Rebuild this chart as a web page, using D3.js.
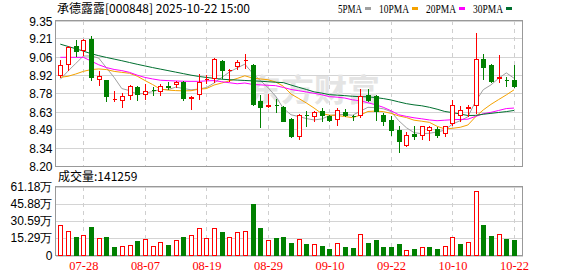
<!DOCTYPE html>
<html lang="zh">
<head>
<meta charset="UTF-8">
<title>承德露露 日K</title>
<script src="https://d3js.org/d3.v7.min.js"></script>
<style>
  body { margin: 0; background: #fff; }
  svg { display: block; font-family: "Liberation Sans", Arial, "Noto Sans CJK SC", sans-serif; }
  .hgrid { stroke: #d4d4d4; shape-rendering: crispEdges; }
  .vgrid { stroke: #cfcfcf; stroke-dasharray: 4,4; shape-rendering: crispEdges; }
  .frame { fill: none; stroke: #999; shape-rendering: crispEdges; }
  .ma { fill: none; stroke-width: 1px; }
</style>
</head>
<body>
<svg id="chart" width="578" height="276"></svg>
<script>
// trading days shown (2025)
const dates = ["07-23","07-24","07-25","07-28","07-29","07-30","07-31","08-01","08-04","08-05",
  "08-06","08-07","08-08","08-11","08-12","08-13","08-14","08-15","08-18","08-19",
  "08-20","08-21","08-22","08-25","08-26","08-27","08-28","08-29","09-01","09-02",
  "09-03","09-04","09-05","09-08","09-09","09-10","09-11","09-12","09-15","09-16",
  "09-17","09-18","09-19","09-22","09-23","09-24","09-25","09-26","09-29","09-30",
  "10-09","10-10","10-13","10-14","10-15","10-16","10-17","10-20","10-21","10-22"];

const open = [8.922, 9.006, 9.146, 9.114, 9.204, 8.890, 8.877, 8.728, 8.725, 8.764,
  8.825, 8.769, 8.800, 8.790, 8.830, 8.848, 8.861, 8.741, 8.769, 8.885,
  8.896, 9.027, 8.960, 8.988, 9.035, 8.996, 8.717, 8.678, 8.683, 8.669,
  8.574, 8.440, 8.602, 8.593, 8.632, 8.593, 8.572, 8.627, 8.595, 8.601,
  8.764, 8.751, 8.601, 8.566, 8.487, 8.363, 8.456, 8.443, 8.487, 8.493,
  8.461, 8.540, 8.601, 8.662, 8.680, 9.046, 8.996, 8.898, 8.883, 8.877];
const high = [9.035, 9.146, 9.199, 9.204, 9.230, 8.954, 8.883, 8.790, 8.777, 8.838,
  8.830, 8.848, 8.822, 8.848, 8.861, 8.875, 8.875, 8.751, 8.927, 8.920,
  9.050, 9.035, 8.965, 9.035, 9.085, 9.006, 8.764, 8.769, 8.730, 8.677,
  8.580, 8.611, 8.632, 8.632, 8.659, 8.601, 8.659, 8.653, 8.606, 8.809,
  8.809, 8.764, 8.619, 8.593, 8.514, 8.469, 8.514, 8.519, 8.519, 8.508,
  8.519, 8.725, 8.672, 8.685, 9.254, 9.088, 9.006, 9.075, 8.904, 8.996];
const low = [8.901, 8.962, 9.067, 9.075, 8.877, 8.838, 8.717, 8.717, 8.667, 8.730,
  8.725, 8.732, 8.764, 8.764, 8.809, 8.822, 8.725, 8.653, 8.732, 8.855,
  8.864, 8.896, 8.869, 8.970, 8.975, 8.685, 8.508, 8.667, 8.624, 8.553,
  8.429, 8.414, 8.519, 8.553, 8.553, 8.558, 8.527, 8.593, 8.561, 8.587,
  8.711, 8.566, 8.527, 8.448, 8.308, 8.356, 8.416, 8.414, 8.403, 8.429,
  8.435, 8.527, 8.558, 8.593, 8.615, 8.888, 8.862, 8.862, 8.830, 8.825];
const close = [8.998, 9.138, 9.112, 9.194, 8.906, 8.914, 8.756, 8.731, 8.751, 8.830,
  8.772, 8.790, 8.797, 8.835, 8.828, 8.867, 8.738, 8.744, 8.864, 8.888,
  9.046, 8.956, 8.962, 9.022, 9.038, 8.693, 8.667, 8.682, 8.679, 8.558,
  8.435, 8.601, 8.600, 8.624, 8.601, 8.566, 8.645, 8.601, 8.592, 8.756,
  8.724, 8.632, 8.558, 8.487, 8.395, 8.443, 8.435, 8.514, 8.508, 8.443,
  8.514, 8.680, 8.643, 8.665, 9.046, 8.983, 8.869, 8.901, 8.880, 8.835];

// volume, in 万
const volume = [26.7, 21.3, 16.3, 17.8, 25.2, 15.1, 16.3, 7.4, 8.3, 8.9,
  12.7, 14.2, 8.0, 12.4, 9.2, 13.3, 16.3, 17.8, 24.0, 15.1,
  24.0, 20.7, 16.3, 20.4, 21.3, 45.9, 24.5, 13.3, 15.4, 16.3,
  11.0, 14.5, 10.0, 10.0, 8.6, 5.9, 10.9, 7.7, 6.5, 19.5,
  10.9, 13.6, 7.7, 7.7, 10.0, 5.3, 5.6, 7.1, 7.4, 5.6,
  8.3, 16.3, 10.0, 12.4, 56.9, 26.9, 17.2, 19.5, 14.5, 14.13];

const ma5 = [8.885, 8.950, 9.010, 9.069, 9.070, 9.053, 8.976, 8.900, 8.812, 8.796,
  8.768, 8.775, 8.788, 8.805, 8.804, 8.823, 8.813, 8.802, 8.808, 8.820,
  8.856, 8.900, 8.943, 8.975, 9.005, 8.934, 8.876, 8.820, 8.752, 8.656,
  8.605, 8.591, 8.575, 8.564, 8.572, 8.598, 8.607, 8.607, 8.601, 8.632,
  8.664, 8.661, 8.652, 8.631, 8.559, 8.503, 8.464, 8.455, 8.459, 8.469,
  8.483, 8.532, 8.558, 8.589, 8.710, 8.803, 8.841, 8.893, 8.936, 8.894];
const ma10 = [8.901, 8.909, 8.927, 8.948, 8.962, 8.967, 8.962, 8.948, 8.940, 8.933,
  8.910, 8.876, 8.844, 8.808, 8.800, 8.796, 8.794, 8.795, 8.807, 8.812,
  8.840, 8.856, 8.873, 8.892, 8.913, 8.895, 8.888, 8.882, 8.864, 8.831,
  8.769, 8.734, 8.698, 8.658, 8.614, 8.602, 8.599, 8.591, 8.582, 8.602,
  8.631, 8.634, 8.630, 8.616, 8.596, 8.583, 8.562, 8.554, 8.545, 8.514,
  8.493, 8.498, 8.506, 8.524, 8.589, 8.643, 8.687, 8.725, 8.762, 8.802];
const ma20 = [9.059, 9.059, 9.059, 9.059, 9.030, 9.000, 8.978, 8.963, 8.954, 8.940,
  8.918, 8.900, 8.888, 8.878, 8.875, 8.872, 8.870, 8.869, 8.869, 8.873,
  8.875, 8.866, 8.858, 8.850, 8.856, 8.845, 8.841, 8.838, 8.835, 8.821,
  8.805, 8.795, 8.785, 8.775, 8.763, 8.748, 8.744, 8.737, 8.723, 8.716,
  8.700, 8.684, 8.664, 8.637, 8.605, 8.592, 8.581, 8.573, 8.564, 8.558,
  8.562, 8.566, 8.568, 8.570, 8.592, 8.613, 8.624, 8.639, 8.654, 8.658];
const ma30 = [9.163, 9.145, 9.127, 9.108, 9.088, 9.072, 9.058, 9.045, 9.032, 9.018,
  9.004, 8.991, 8.978, 8.966, 8.954, 8.942, 8.930, 8.918, 8.908, 8.900,
  8.893, 8.886, 8.882, 8.879, 8.876, 8.873, 8.870, 8.866, 8.862, 8.859,
  8.840, 8.822, 8.805, 8.786, 8.776, 8.764, 8.760, 8.756, 8.751, 8.748,
  8.747, 8.741, 8.733, 8.722, 8.707, 8.693, 8.683, 8.676, 8.664, 8.649,
  8.631, 8.622, 8.611, 8.599, 8.600, 8.609, 8.616, 8.623, 8.630, 8.639];

const priceTicks = [9.35, 9.21, 9.06, 8.92, 8.78, 8.63, 8.49, 8.34, 8.20];
const volTicks = [61.18, 45.88, 30.59, 15.29, 0];
const xLabels = ["07-28", "08-07", "08-19", "08-29", "09-10", "09-22", "10-10", "10-22"];
const maNames = ["5PMA", "10PMA", "20PMA", "30PMA"];
const titleText = "承德露露[000848] 2025-10-22 15:00";
const volText = "成交量:141259";

const UP = "#ff0000", DOWN = "#008000";
const maColors = ["#a0a0a0", "#f5a200", "#ff00ff", "#006f2f"];

// layout
const left = 55.5, right = 522.5;
const pTop = 20.5, pBot = 166;
const vTop = 186.5, vBot = 255.5;

const svg = d3.select("#chart");

const x = d3.scaleBand().domain(dates).range([56.45, 56.45 + 7.69 * dates.length]);
const cx = d => x(d) + x.bandwidth() / 2;
const y = d3.scaleLinear().domain([8.20, 9.35]).range([pBot, pTop]);
const yv = d3.scaleLinear().domain([0, 61.18]).range([vBot, vTop]);

const bars = dates.map((d, i) => ({
  date: d, o: open[i], h: high[i], l: low[i], c: close[i], v: volume[i],
  up: close[i] >= open[i],
  volUp: i === 0 ? close[i] >= open[i] : close[i] >= close[i - 1]
}));

// horizontal grid
svg.append("g").selectAll("line").data(priceTicks).join("line")
  .attr("class", "hgrid")
  .attr("x1", left).attr("x2", right)
  .attr("y1", d => Math.round(y(d)) + 0.5).attr("y2", d => Math.round(y(d)) + 0.5);
svg.append("g").selectAll("line").data(volTicks).join("line")
  .attr("class", "hgrid")
  .attr("x1", left).attr("x2", right)
  .attr("y1", d => Math.round(yv(d)) + 0.5).attr("y2", d => Math.round(yv(d)) + 0.5);

// vertical dashed grid at label dates
[[pTop, pBot], [vTop, vBot]].forEach(([a, b]) => {
  svg.append("g").selectAll("line").data(xLabels).join("line")
    .attr("class", "vgrid")
    .attr("x1", d => Math.round(cx(d)) + 0.5).attr("x2", d => Math.round(cx(d)) + 0.5)
    .attr("y1", a).attr("y2", b);
});

// watermark
svg.append("text")
  .attr("x", 248).attr("y", 101)
  .attr("font-family", "Noto Sans CJK SC")
  .attr("font-size", 31).attr("font-weight", "bold")
  .attr("fill", "#e4e4e4")
  .attr("textLength", 132).attr("lengthAdjust", "spacingAndGlyphs")
  .text("东方财富");

// frames
svg.append("rect").attr("class", "frame")
  .attr("x", left).attr("y", pTop).attr("width", right - left).attr("height", Math.round(pBot) + 0.5 - pTop);
svg.append("rect").attr("class", "frame")
  .attr("x", left).attr("y", vTop).attr("width", right - left).attr("height", vBot - vTop);

// price axis labels
const yAxis = svg.append("g")
  .attr("transform", `translate(${left},0)`)
  .call(d3.axisLeft(y).tickValues(priceTicks).tickSize(0).tickPadding(3).tickFormat(d3.format(".2f")));
yAxis.select(".domain").remove();
yAxis.selectAll("text").attr("font-size", 12).attr("font-family", null).attr("fill", "#000").attr("dy", "0.38em");

const vAxis = svg.append("g")
  .attr("transform", `translate(${left},0)`)
  .call(d3.axisLeft(yv).tickValues(volTicks).tickSize(0).tickPadding(3)
    .tickFormat(d => d === 0 ? "0" : d.toFixed(2) + "万"));
vAxis.select(".domain").remove();
vAxis.selectAll("text").attr("font-size", 12).attr("font-family", null).attr("fill", "#000").attr("dy", "0.3em");

// date labels
const xAxis = svg.append("g")
  .attr("transform", `translate(${0.5},${vBot})`)
  .call(d3.axisBottom(x).tickValues(xLabels).tickSize(0).tickPadding(6));
xAxis.select(".domain").remove();
xAxis.selectAll("text")
  .attr("font-family", "Liberation Serif, serif").attr("font-size", 12)
  .attr("fill", UP)
  .attr("textLength", 29).attr("lengthAdjust", "spacingAndGlyphs");

// moving averages
const maSeries = [ma5, ma10, ma20, ma30];
const line = d3.line().x((v, i) => cx(dates[i])).y(v => y(v));
svg.append("g").selectAll("path").data(maSeries).join("path")
  .attr("class", "ma")
  .attr("stroke", (s, k) => maColors[k])
  .attr("d", s => line(s));

// candles
const px = b => Math.round(cx(b.date));
const cg = svg.append("g").attr("shape-rendering", "crispEdges");
cg.selectAll("line").data(bars).join("line")
  .attr("x1", b => px(b) + 0.5).attr("x2", b => px(b) + 0.5)
  .attr("y1", b => Math.round(y(b.h))).attr("y2", b => Math.round(y(b.l)) + 1)
  .attr("stroke", b => b.up ? UP : DOWN);
cg.selectAll("path").data(bars).join("path")
  .attr("d", b => {
    const t = Math.round(y(Math.max(b.o, b.c))), btm = Math.round(y(Math.min(b.o, b.c)));
    return `M${px(b) - 1.5},${t + 0.5}h4v${btm - t}h-4Z`;
  })
  .attr("fill", b => b.up ? "#fff" : DOWN)
  .attr("stroke", b => b.up ? UP : DOWN);

// volume bars
svg.append("g").attr("shape-rendering", "crispEdges")
  .selectAll("path").data(bars).join("path")
  .attr("d", b => {
    const t = Math.round(yv(b.v));
    return `M${px(b) - 1.5},${t + 0.5}h4V${vBot - 0.5}h-4Z`;
  })
  .attr("fill", b => b.volUp ? "#fff" : DOWN)
  .attr("stroke", b => b.volUp ? UP : DOWN);

// title + legend
svg.append("text")
  .attr("x", 57).attr("y", 13)
  .attr("font-family", "Noto Sans CJK SC").attr("font-size", 12).attr("fill", "#000")
  .text(titleText);

let lx = 338;
maNames.forEach((name, k) => {
  const w = name.length * 6;
  svg.append("text")
    .attr("x", lx).attr("y", 13)
    .attr("font-family", "Liberation Serif, serif").attr("font-size", 12).attr("fill", "#000")
    .attr("textLength", w).attr("lengthAdjust", "spacingAndGlyphs")
    .text(name);
  svg.append("rect")
    .attr("x", lx + w + 3).attr("y", 7).attr("width", 6).attr("height", 3)
    .attr("fill", maColors[k]);
  lx += w + 3 + 6 + 8;
});

svg.append("text")
  .attr("x", 58).attr("y", 181)
  .attr("font-family", "Noto Sans CJK SC").attr("font-size", 12).attr("fill", "#000")
  .text(volText);
</script>
</body>
</html>
